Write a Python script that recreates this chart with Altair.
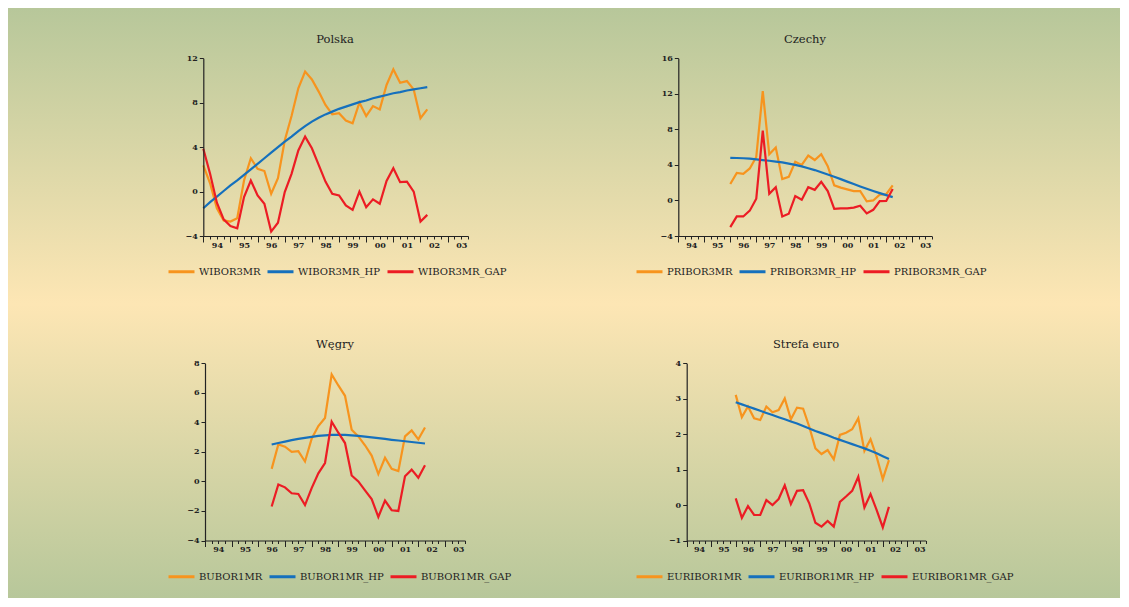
import altair as alt
import pandas as pd

# ---------------- data (quarter index: 0 = 1994Q1) ----------------
YEAR_LABELS = ["94", "95", "96", "97", "98", "99", "00", "01", "02", "03"]
QUARTER_TICKS = list(range(0, 40))

PL_NAMES = ["WIBOR3MR", "WIBOR3MR_HP", "WIBOR3MR_GAP"]
PL_START = 0
PL_RATE = [2.35, 0.75, -1.5, -2.6, -2.7, -2.4, 1.0, 3.0, 2.05, 1.85, -0.2, 1.2, 4.6, 6.8,
           9.3, 10.8, 10.1, 9.0, 7.8, 6.95, 7.05, 6.4, 6.15, 8.0, 6.8, 7.7, 7.4, 9.6, 11.0,
           9.8, 9.95, 9.2, 6.6, 7.4]
PL_HP = [-1.5, -0.95, -0.45, 0.05, 0.55, 1.0, 1.5, 2.0, 2.5, 3.0, 3.5, 4.0, 4.5, 4.95, 5.45,
         5.9, 6.3, 6.65, 6.95, 7.2, 7.45, 7.65, 7.85, 8.05, 8.2, 8.4, 8.55, 8.7, 8.85, 8.95,
         9.1, 9.2, 9.3, 9.4]
PL_GAP = [3.85, 1.6, -1.0, -2.5, -3.1, -3.3, -0.5, 1.0, -0.35, -1.1, -3.6, -2.8, -0.05, 1.6,
          3.7, 4.95, 3.9, 2.4, 0.9, -0.2, -0.35, -1.25, -1.65, 0.0, -1.4, -0.7, -1.1, 0.95,
          2.1, 0.85, 0.9, 0.0, -2.7, -2.1]

CZ_NAMES = ["PRIBOR3MR", "PRIBOR3MR_HP", "PRIBOR3MR_GAP"]
CZ_START = 8
CZ_RATE = [1.85, 3.1, 3.0, 3.6, 4.9, 12.3, 5.2, 5.95, 2.4, 2.65, 4.35, 4.0, 5.05, 4.55, 5.2,
           3.85, 1.7, 1.45, 1.25, 1.05, 1.05, -0.1, 0.0, 0.65, 0.7, 1.7]
CZ_HP = [4.8, 4.78, 4.75, 4.7, 4.62, 4.55, 4.47, 4.38, 4.28, 4.15, 4.0, 3.83, 3.63, 3.42,
         3.18, 2.93, 2.67, 2.4, 2.12, 1.85, 1.58, 1.32, 1.07, 0.83, 0.6, 0.38]
CZ_GAP = [-3.0, -1.8, -1.8, -1.15, 0.2, 7.85, 0.75, 1.5, -1.8, -1.5, 0.5, 0.08, 1.5, 1.2, 2.1,
          1.05, -0.95, -0.9, -0.9, -0.8, -0.6, -1.45, -1.05, -0.08, -0.05, 1.3]

HU_NAMES = ["BUBOR1MR", "BUBOR1MR_HP", "BUBOR1MR_GAP"]
HU_START = 10
HU_RATE = [0.85, 2.5, 2.35, 2.0, 2.05, 1.35, 2.9, 3.75, 4.3, 7.25, 6.5, 5.8, 3.5, 3.05, 2.45,
           1.75, 0.5, 1.6, 0.85, 0.7, 3.05, 3.45, 2.85, 3.65]
HU_HP = [2.5, 2.6, 2.7, 2.8, 2.88, 2.95, 3.02, 3.08, 3.12, 3.15, 3.16, 3.15, 3.12, 3.08, 3.03,
         2.98, 2.93, 2.88, 2.82, 2.77, 2.72, 2.67, 2.62, 2.57]
HU_GAP = [-1.7, -0.2, -0.4, -0.8, -0.85, -1.6, -0.45, 0.55, 1.25, 4.05, 3.3, 2.6, 0.4, 0.0,
          -0.6, -1.2, -2.4, -1.3, -1.95, -2.0, 0.35, 0.8, 0.25, 1.1]

EU_NAMES = ["EURIBOR1MR", "EURIBOR1MR_HP", "EURIBOR1MR_GAP"]
EU_START = 8
EU_RATE = [3.11, 2.48, 2.78, 2.45, 2.40, 2.78, 2.62, 2.68, 3.01, 2.42, 2.75, 2.72, 2.21, 1.60,
           1.44, 1.55, 1.29, 1.98, 2.04, 2.14, 2.45, 1.53, 1.86, 1.36, 0.73, 1.27]
EU_HP = [2.90, 2.84, 2.78, 2.72, 2.66, 2.60, 2.54, 2.48, 2.42, 2.36, 2.30, 2.23, 2.16, 2.09,
         2.03, 1.97, 1.90, 1.84, 1.78, 1.72, 1.66, 1.60, 1.53, 1.46, 1.38, 1.30]
EU_GAP = [0.19, -0.36, -0.03, -0.28, -0.28, 0.14, 0.0, 0.17, 0.56, 0.03, 0.40, 0.42, 0.05,
          -0.5, -0.61, -0.45, -0.61, 0.09, 0.24, 0.40, 0.8, -0.07, 0.31, -0.14, -0.63, -0.05]

# ---------------- style ----------------
GREEN = "#b7c79a"
CREAM = "#fde6b4"
COLORS = ["#f7941e", "#1570bd", "#ec1c24"]
FONT = "DejaVu Serif"
INK = "#222222"

QW = 556
QH_TOP = 296
QH_BOT = 294

LABEL_EXPR = ("datum.value % 4 == 2 ? " + str(YEAR_LABELS) +
              "[(datum.value - 2) / 4] : ''")


def panel(title, names, start, series, ydomain, yticks, W, H, top_row, g):
    rows = []
    for name, vals in zip(names, series):
        for k, v in enumerate(vals):
            rows.append({"i": start + k, "v": v, "s": name})
    df = pd.DataFrame(rows)

    if top_row:
        stops = [alt.GradientStop(color=GREEN, offset=0), alt.GradientStop(color=CREAM, offset=1)]
    else:
        stops = [alt.GradientStop(color=CREAM, offset=0), alt.GradientStop(color=GREEN, offset=1)]

    bg = alt.Chart(pd.DataFrame({"a": [0]})).mark_rect(
        fill=alt.Gradient(gradient="linear", stops=stops, x1=0, x2=0, y1=0, y2=1),
        strokeWidth=0,
    ).encode(x=alt.value(0), x2=alt.value(W), y=alt.value(0), y2=alt.value(H))

    ttl = alt.Chart(pd.DataFrame({"t": [title]})).mark_text(
        font=FONT, fontSize=11.5, color=INK, align="center", baseline="middle"
    ).encode(x=alt.value(g["tx"]), y=alt.value(g["ty"]), text="t:N")

    lines = alt.Chart(df).mark_line(strokeWidth=2.2).encode(
        x=alt.X(
            "i:Q",
            scale=alt.Scale(domain=[0, 39], range=[g["x0"], g["x1"]], nice=False, zero=False),
            axis=alt.Axis(
                values=QUARTER_TICKS, labelExpr=LABEL_EXPR, title=None, orient="bottom",
                offset=g["yb"] - H, grid=False, domainColor=INK, domainWidth=1.2,
                tickColor=INK, tickWidth=1,
                tickSize={"condition": {"test": "datum.value % 4 == 0", "value": 6}, "value": 3},
                labelFont=FONT, labelFontSize=8, labelFontWeight="bold", labelColor=INK,
                labelPadding=2, labelOverlap=False, labelFlush=False, zindex=1,
            ),
        ),
        y=alt.Y(
            "v:Q",
            scale=alt.Scale(domain=ydomain, range=[g["yb"], g["yt"]], nice=False, zero=False),
            axis=alt.Axis(
                values=yticks, title=None, orient="left", offset=-g["x0"], grid=False,
                domainColor=INK, domainWidth=1.2, tickColor=INK, tickWidth=1, tickSize=4,
                labelFont=FONT, labelFontSize=8, labelFontWeight="bold", labelColor=INK,
                labelPadding=2, labelOverlap=False, labelFlush=False, zindex=1,
            ),
        ),
        color=alt.Color(
            "s:N",
            scale=alt.Scale(domain=names, range=COLORS),
            legend=alt.Legend(
                orient="none", legendX=g["lx"], legendY=g["ly"], direction="horizontal",
                title=None, symbolType="stroke", symbolSize=676, symbolStrokeWidth=3,
                labelFont=FONT, labelFontSize=10, labelColor=INK, labelOffset=3,
                columnPadding=0, padding=0, zindex=1,
            ),
        ),
        order="i:Q",
    )
    return alt.layer(bg, ttl, lines).properties(width=W, height=H)


pl = panel("Polska", PL_NAMES, PL_START, [PL_RATE, PL_HP, PL_GAP], [-4, 12], [-4, 0, 4, 8, 12],
           QW, QH_TOP, True,
           dict(tx=327, ty=32, x0=195.3, x1=460, yt=50.3, yb=228, lx=159, ly=249))
cz = panel("Czechy", CZ_NAMES, CZ_START, [CZ_RATE, CZ_HP, CZ_GAP], [-4, 16],
           [-4, 0, 4, 8, 12, 16], QW, QH_TOP, True,
           dict(tx=241, ty=32, x0=114.3, x1=367.7, yt=50.3, yb=228, lx=71, ly=249))
hu = panel("Węgry", HU_NAMES, HU_START, [HU_RATE, HU_HP, HU_GAP], [-4, 8],
           [-4, -2, 0, 2, 4, 6, 8], QW, QH_BOT, False,
           dict(tx=327, ty=41, x0=197, x1=457, yt=59.3, yb=236.5, lx=159, ly=258))
eu = panel("Strefa euro", EU_NAMES, EU_START, [EU_RATE, EU_HP, EU_GAP], [-1, 4],
           [-1, 0, 1, 2, 3, 4], QW, QH_BOT, False,
           dict(tx=242, ty=41, x0=122.7, x1=361.7, yt=59.3, yb=236.5, lx=71, ly=258))

top = alt.hconcat(pl, cz, spacing=0).resolve_scale(x="independent", y="independent", color="independent")
bottom = alt.hconcat(hu, eu, spacing=0).resolve_scale(x="independent", y="independent", color="independent")

chart = (
    alt.vconcat(top, bottom, spacing=0)
    .resolve_scale(x="independent", y="independent", color="independent")
    .properties(padding=0)
    .configure(background=CREAM)
    .configure_view(stroke=None)
)

chart.save("out.html", embed_options={"renderer": "svg", "actions": False})
